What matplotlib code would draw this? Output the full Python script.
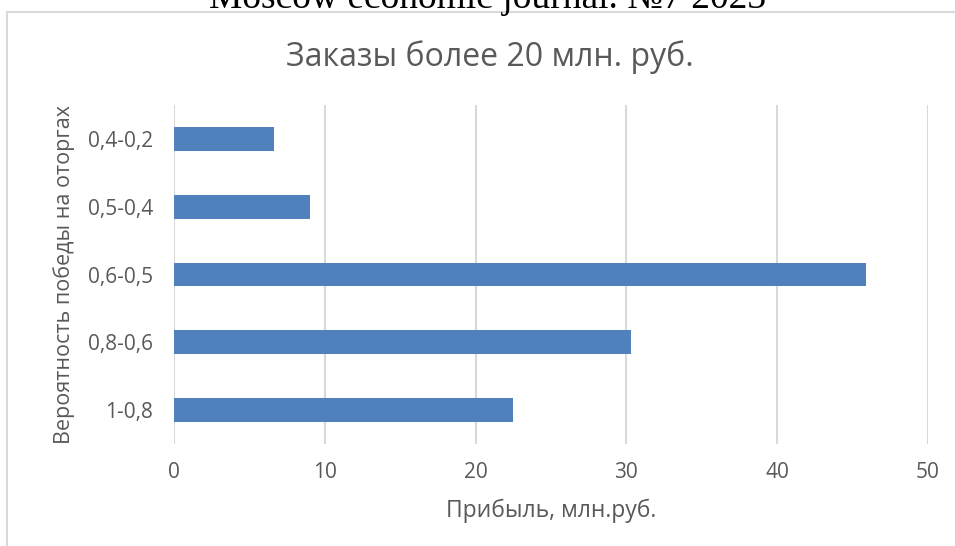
import matplotlib
matplotlib.use("Agg")
import matplotlib.pyplot as plt
from matplotlib.patches import Rectangle

categories = ["1-0,8", "0,8-0,6", "0,6-0,5", "0,5-0,4", "0,4-0,2"]
profit = [22.5, 30.3, 45.9, 9.0, 6.6]
xticks = [0, 10, 20, 30, 40, 50]

W, H = 955, 546
fig = plt.figure(figsize=(W / 100, H / 100), dpi=100)
fig.patch.set_facecolor("white")

# outer chart border (clipped at right and bottom)
fig.patches.append(Rectangle((7 / W, -0.05), 1.1, 1 - 12 / H + 0.05,
                             transform=fig.transFigure, fill=False,
                             edgecolor="#d9d9d9", linewidth=1.5))

# journal header, clipped at top
fig.text(488 / W, 1 - 8 / H, "Moscow economic journal. №7 2023",
         ha="center", va="baseline", fontsize=27,
         family="Liberation Serif", color="black")

ax = fig.add_axes([174 / W, 1 - 444 / H, (928 - 174) / W, (444 - 105) / H])
ypos = list(range(len(categories)))
ax.barh(ypos, profit, height=0.35, color="#4F81BD", zorder=3)
ax.set_xlim(0, 50)
ax.set_ylim(-0.5, len(categories) - 0.5)
ax.set_xticks(xticks)
ax.set_yticks(ypos)
ax.set_yticklabels(categories)
ax.grid(axis="x", color="#d9d9d9", linewidth=1.5, zorder=0)
for s in ax.spines.values():
    s.set_visible(False)
ax.tick_params(length=0, labelsize=15, labelcolor="#595959")
ax.tick_params(axis="x", pad=13)
ax.tick_params(axis="y", pad=15)
for lbl in ax.get_xticklabels() + ax.get_yticklabels():
    lbl.set_family("Open Sans")

ax.set_xlabel("Прибыль, млн.руб.", fontsize=16.5, color="#595959",
              family="Open Sans", labelpad=11)
ax.set_ylabel("Вероятность победы на оторгах", fontsize=15.5, color="#595959",
              family="Open Sans", labelpad=9)

fig.text(490 / W, 1 - 57 / H, "Заказы более 20 млн. руб.", ha="center",
         va="center", fontsize=23, color="#595959", family="Open Sans")

fig.savefig("out.png", dpi=100, facecolor="white")
